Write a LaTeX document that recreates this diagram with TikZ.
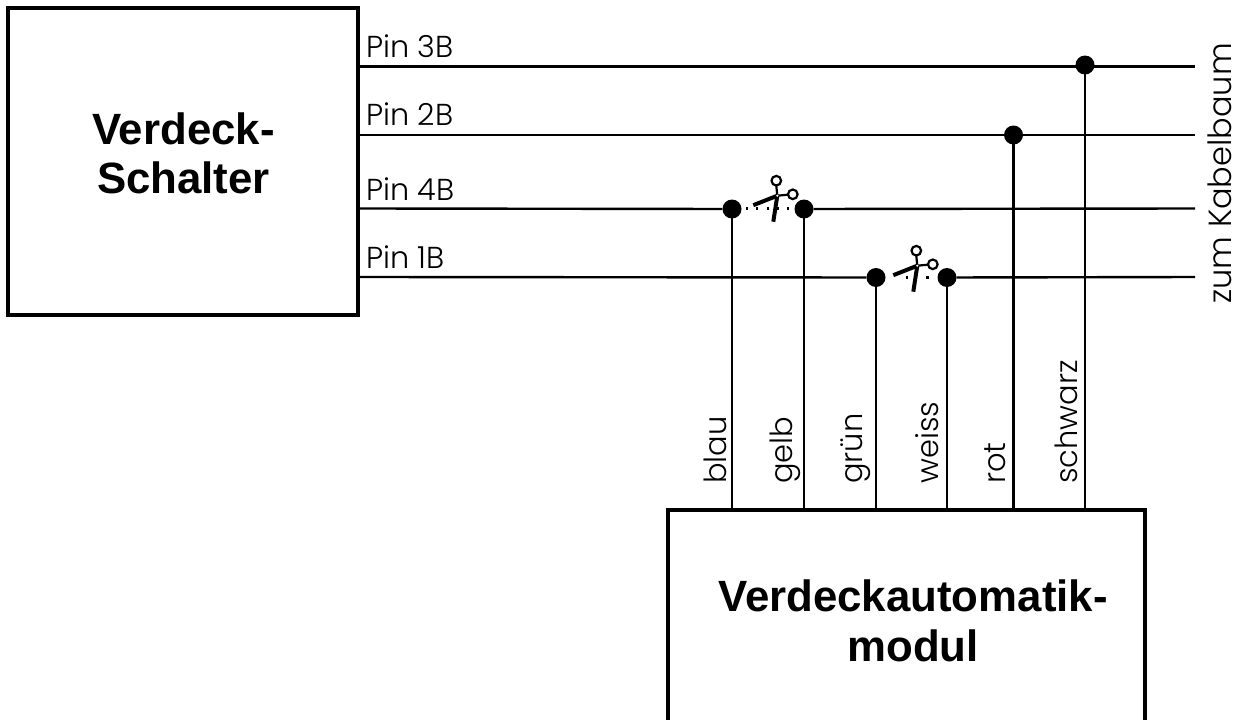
\documentclass[tikz,border=0pt]{standalone}
\usepackage{fontspec}
\setmainfont{Liberation Sans}
\newfontfamily\geo{Poppins Light}
\tikzset{
  boxnode/.style={draw=black,line width=4.2pt,fill=none,inner sep=0pt,rectangle},
  title/.style={font=\fontsize{43.8}{49.5}\selectfont\bfseries,align=center,inner sep=0pt},
  pinlabel/.style={font=\geo\fontsize{30.3}{30}\selectfont,anchor=base west,inner sep=0pt},
  wirelabel/.style={font=\geo\fontsize{30.5}{30}\selectfont,anchor=base west,inner sep=0pt,rotate=90},
  wire/.style={draw=black,line width=2.4pt},
  junction/.style={circle,fill=black,draw=none,minimum size=19pt,inner sep=0pt},
  cutdot/.style={rectangle,fill=black,draw=none,minimum size=2.4pt,inner sep=0pt},
  pics/shears/.style={code={
    \draw[black,line width=4pt] (-24,9.5) -- (0,0);
    \draw[black,line width=4pt] (-4,26) -- (0,0);
    \draw[black,line width=2.2pt] (0,0) -- (-1,-10);
    \draw[black,line width=2.2pt] (0,0) -- (10.5,-1);
    \draw[black,fill=white,line width=2.2pt] (-1,-15) circle [radius=4.8pt];
    \draw[black,fill=white,line width=2.2pt] (15.5,-1.4) circle [radius=4.8pt];
    \fill[white] (0,0) circle [radius=1.2pt];
  }}
}
\begin{document}
\begin{tikzpicture}[x=1pt,y=-1pt]
\useasboundingbox (0,0) rectangle (1243,720);
\fill[white] (0,0) rectangle (1243,720);
\clip (0,0) rectangle (1243,720);
% boxes
\node[boxnode,minimum width=350pt,minimum height=307pt] (sw) at (183,161.5) {};
\node[boxnode,minimum width=477pt,minimum height=300pt] (mod) at (906.5,660) {};
\node[title] (swt) at (183.5,153.5) {Verdeck-\\Schalter};
\node[title] (modt) at (913,621) {Verdeckautomatik-\\modul};
% free wire ends
\coordinate (e3) at (1195,66.5);
\coordinate (e2) at (1195,135);
\coordinate (e4) at (1195,208.5);
\coordinate (e1) at (1195,277);
\coordinate (s3) at (sw.east |- e3);
\coordinate (s2) at (sw.east |- e2);
\coordinate (s4) at (sw.east |- e4);
\coordinate (s1) at (sw.east |- e1);
% junctions
\node[junction] (jblau) at (732,209) {};
\node[junction] (jgelb) at (804,209) {};
\node[junction] (jgruen) at (876,277.5) {};
\node[junction] (jweiss) at (947,277.5) {};
\node[junction] (jrot) at (1013.5,135) {};
\node[junction] (jschw) at (1085,65) {};
% horizontal wires
\draw[wire] (s3) -- (e3);
\draw[wire] (s2) -- (e2);
\draw[wire] (s4) -- (jblau);
\draw[wire] (jgelb) -- (e4);
\draw[wire] (s1) -- (jgruen);
\draw[wire] (jweiss) -- (e1);
% vertical wires
\foreach \j in {jblau,jgelb,jgruen,jweiss,jrot,jschw}
  \draw[wire] (\j.center) -- (\j.center |- mod.north);
% cut marks
\foreach \n/\x in {a/747,b/757,c/768,d/778,e/788}
  \node[cutdot] (cut\n) at (\x,208.5) {};
\foreach \n/\x in {f/907,g/927.5}
  \node[cutdot] (cut\n) at (\x,277.5) {};
\pic at (777.3,195.7) {shears};
\pic at (917.3,265.7) {shears};
% labels
\node[pinlabel] (p3) at (366,57) {Pin 3B};
\node[pinlabel] (p2) at (366,125) {Pin 2B};
\node[pinlabel] (p4) at (366,200) {Pin 4B};
\node[pinlabel] (p1) at (366,268) {Pin 1B};
\node[wirelabel] (lblau) at (726,484) {blau};
\node[wirelabel] (lgelb) at (792,484) {gelb};
\node[wirelabel] (lgruen) at (862,484) {grün};
\node[wirelabel] (lweiss) at (938,484) {weiss};
\node[wirelabel] (lrot) at (1005.5,484) {rot};
\node[wirelabel] (lschw) at (1077,484) {schwarz};
\node[wirelabel,font=\geo\fontsize{32}{32}\selectfont] (lkab) at (1231,304) {zum Kabelbaum};
\end{tikzpicture}
\end{document}
